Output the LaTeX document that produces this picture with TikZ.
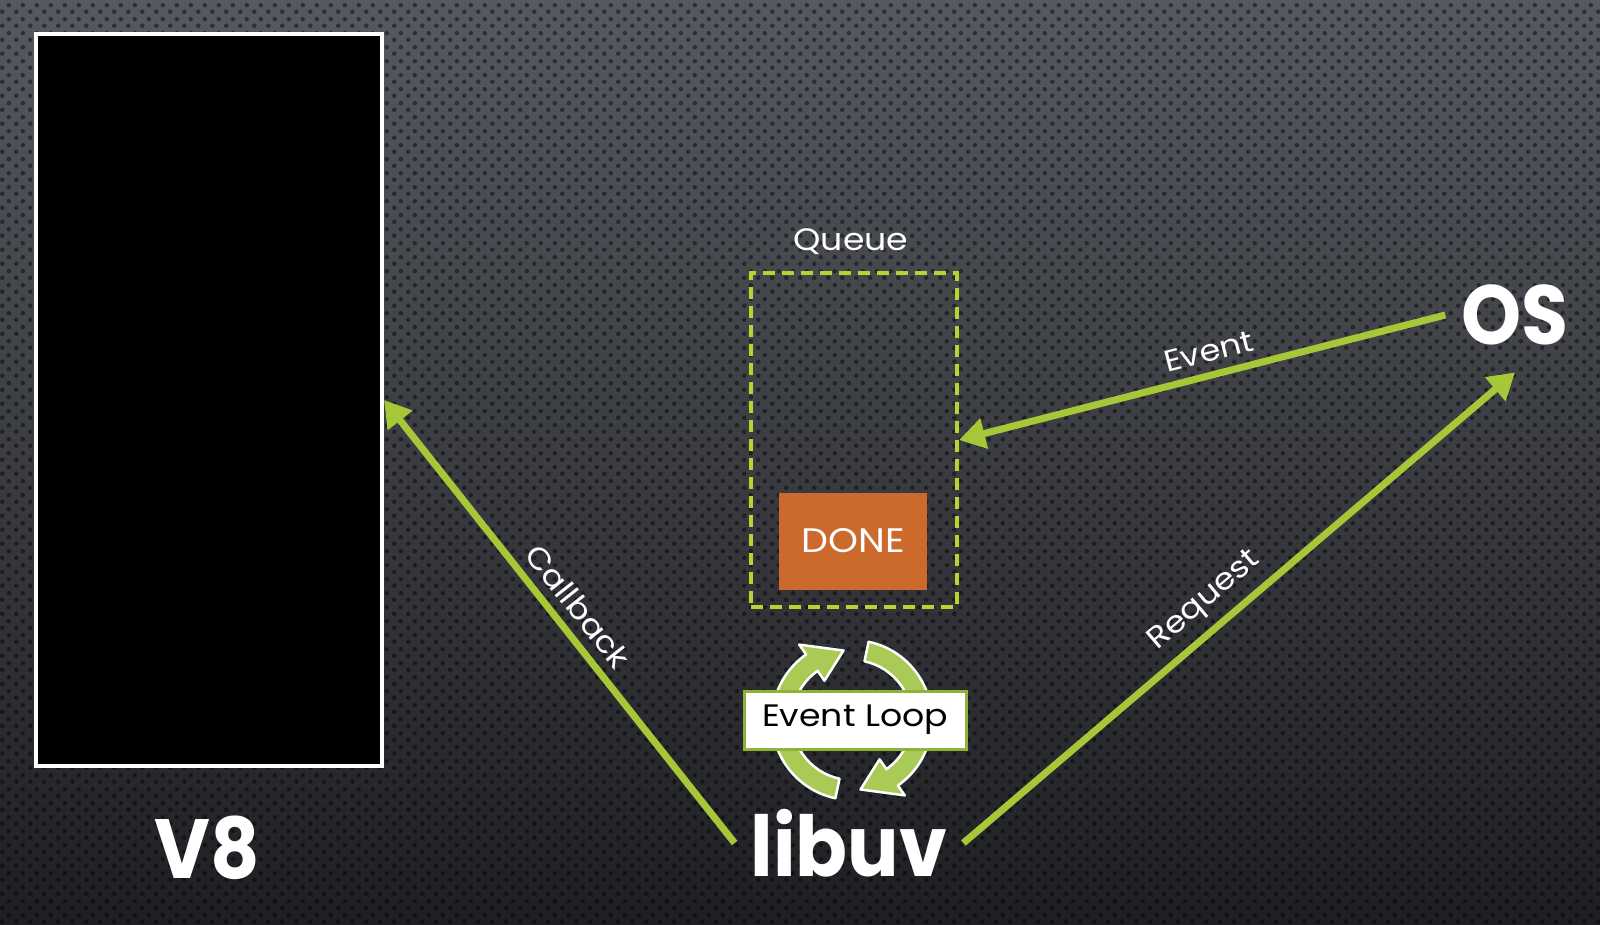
\documentclass[tikz,border=0pt]{standalone}
\usepackage{fontspec}
\setmainfont{Poppins}
\newfontfamily\widefont[FakeStretch=1.12]{Poppins}
\newfontfamily\boldnarrow[FakeStretch=0.91]{Poppins Bold}
\usetikzlibrary{arrows.meta,patterns.meta}
\definecolor{lime}{HTML}{A6C838}
\definecolor{dashlime}{HTML}{B8D433}
\definecolor{doneor}{HTML}{CC6A2E}
\definecolor{bgtop}{HTML}{565960}
\definecolor{bgbot}{HTML}{1E1F22}
\definecolor{elgreen}{HTML}{A9CB55}
\definecolor{elborder}{HTML}{8DB33A}
\tikzdeclarepattern{name=bgdots, type=uncolored,
  bottom left={(0pt,0pt)}, top right={(14pt,14pt)}, tile size={(14pt,14pt)},
  code={\fill (3.5pt,3.5pt) circle (2.4pt) (10.5pt,10.5pt) circle (2.4pt);}}
\tikzset{
  bigtxt/.style={text=white, font=\fontsize{84}{92}\boldnarrow, inner sep=0pt},
  v8box/.style={draw=white, fill=black, line width=4pt, minimum width=346pt, minimum height=732pt, inner sep=0pt},
  dashbox/.style={draw=dashlime, line width=4pt, dash pattern=on 12pt off 7pt, minimum width=206pt, minimum height=334pt, inner sep=0pt},
  donebox/.style={fill=doneor, text=white, font=\fontsize{34}{37}\widefont, minimum width=148pt, minimum height=97pt, inner sep=0pt},
  qtxt/.style={text=white, font=\fontsize{31}{34}\widefont},
  elbox/.style={fill=white, draw=elborder, line width=3pt, text=black, font=\fontsize{31}{34}\widefont, minimum width=222pt, minimum height=58pt, inner sep=0pt},
  conn/.style={draw=lime, line width=7pt, -{Triangle[length=26pt,width=30pt]}},
  lbl/.style={text=white, font=\fontsize{30}{33}\widefont, sloped, above=6pt},
  cycarrow/.style={fill=elgreen, draw=white, line width=2.5pt, line join=round}
}
\begin{document}
\begin{tikzpicture}[x=1pt,y=-1pt]
\useasboundingbox (0,0) rectangle (1600,924);
\shade[top color=bgtop, bottom color=bgbot] (0,0) rectangle (1600,924);
\fill[pattern=bgdots, pattern color=black, fill opacity=0.45] (0,0) rectangle (1600,924);

\node[v8box] (v8) at (209,400) {};
\node[bigtxt] (v8lbl) at (207,848) {V8};

\node[dashbox] (queue) at (854,440) {};
\node[qtxt] (qlbl) at (851,242) {Queue};
\node[donebox] (done) at (853,541) {DONE};

\node[bigtxt, inner xsep=16pt] (libuv) at (849,843) {libuv};
\node[bigtxt, inner xsep=16pt, inner ysep=27pt] (os) at (1515,315) {OS};

\begin{scope}[shift={(852,720)}, yscale=-1]
  \filldraw[cycarrow] (258:80) arc[start angle=258, end angle=125, radius=80] -- (125:92) -- (97:70) -- (125:48) -- (125:60) arc[start angle=125, end angle=258, radius=60] -- cycle;
  \filldraw[cycarrow] (78:80) arc[start angle=78, end angle=-55, radius=80] -- (-55:92) -- (-83:70) -- (-55:48) -- (-55:60) arc[start angle=-55, end angle=78, radius=60] -- cycle;
\end{scope}
\node[elbox] (el) at (855,720) {Event Loop};

\draw[conn] (libuv.west) -- node[lbl, pos=.5] {Callback} (v8.east);
\draw[conn] (os.west) -- node[lbl, pos=.475] {Event} (queue.east);
\draw[conn] (libuv.east) -- node[lbl, pos=.47] {Request} (os.south);
\end{tikzpicture}
\end{document}
